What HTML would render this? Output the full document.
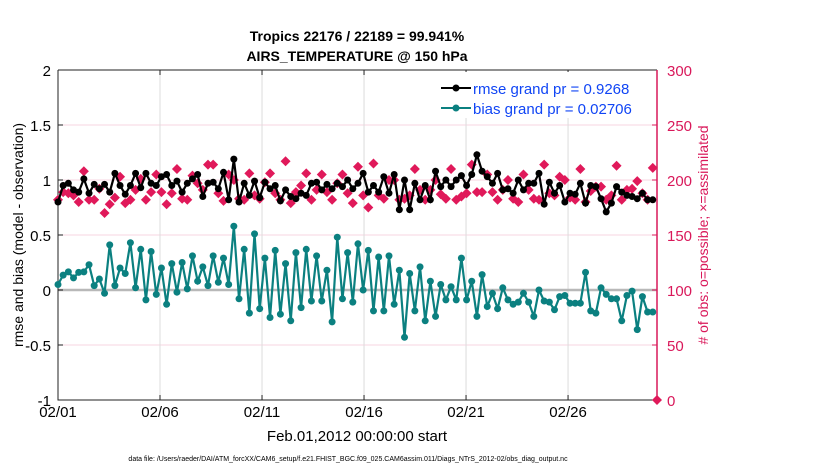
<!DOCTYPE html>
<html><head><meta charset="utf-8"><style>
body{margin:0;background:#fff;width:830px;height:470px;overflow:hidden;font-family:"Liberation Sans",Arial,sans-serif}
</style></head><body>
<svg id="chart" width="830" height="470" xmlns="http://www.w3.org/2000/svg" font-family="Liberation Sans, Arial, sans-serif">
<g id="grid"></g>
<g id="axes"></g>
<g id="series"></g>
<text x="357" y="41" text-anchor="middle" font-size="14" font-weight="bold">Tropics 22176 / 22189 = 99.941%</text>
<text x="357" y="61" text-anchor="middle" font-size="14" font-weight="bold">AIRS_TEMPERATURE @ 150 hPa</text>
<text x="357" y="441" text-anchor="middle" font-size="15">Feb.01,2012 00:00:00 start</text>
<text transform="translate(23,235) rotate(-90)" text-anchor="middle" font-size="14">rmse and bias (model - observation)</text>
<text transform="translate(708,235) rotate(-90)" text-anchor="middle" font-size="14" fill="#d9185a"># of obs: o=possible; ×=assimilated</text>
<text x="348" y="461" text-anchor="middle" font-size="7">data file: /Users/raeder/DAI/ATM_forcXX/CAM6_setup/f.e21.FHIST_BGC.f09_025.CAM6assim.011/Diags_NTrS_2012-02/obs_diag_output.nc</text>
<g>
<rect x="436" y="72" width="218" height="46" fill="#fff"/>
<line x1="441" y1="88" x2="471" y2="88" stroke="#000" stroke-width="2"/><circle cx="456" cy="88" r="3.5" fill="#000"/>
<text x="473" y="94" font-size="15" fill="#1045f5">rmse grand pr = 0.9268</text>
<line x1="441" y1="108" x2="471" y2="108" stroke="#0b8080" stroke-width="2"/><circle cx="456" cy="108" r="3.5" fill="#0b8080"/>
<text x="473" y="114" font-size="15" fill="#1045f5">bias grand pr = 0.02706</text>
</g>
</svg>
<script>
const rmse=[0.80,0.95,0.97,0.91,0.89,1.01,0.88,0.96,0.92,0.96,0.89,1.06,0.95,0.87,0.95,1.06,0.93,1.06,0.97,0.95,1.03,1.05,0.95,0.99,0.89,0.97,1.01,1.05,0.85,0.97,
0.98,0.92,1.07,0.82,1.19,0.80,0.97,0.86,0.99,0.84,0.98,0.92,0.95,0.81,0.91,0.85,0.83,0.88,0.86,0.97,0.98,0.91,0.96,0.92,0.97,0.94,1.0,0.92,0.97,
1.06,0.89,0.95,0.89,1.03,0.88,1.05,0.73,1.0,0.73,0.97,0.82,0.95,0.82,1.08,0.94,1.0,0.94,1.0,1.04,0.95,1.05,1.23,1.08,1.03,0.97,1.06,0.91,0.92,
0.88,1.0,0.91,0.97,0.97,1.06,0.78,0.98,0.88,0.95,0.80,0.88,0.87,0.97,0.79,0.95,0.94,0.83,0.71,0.79,0.94,0.89,0.86,0.85,0.83,0.88,0.82,0.82];
const bias=[0.05,0.135,0.165,0.11,0.16,0.165,0.23,0.04,0.1,-0.03,0.41,0.04,0.2,0.15,0.43,0.02,0.37,-0.09,0.35,-0.04,0.2,-0.13,0.24,-0.02,0.25,0.01,0.31,0.08,0.21,0.04,
0.31,0.07,0.29,0.05,0.58,-0.08,0.37,-0.21,0.51,-0.17,0.29,-0.25,0.36,-0.22,0.24,-0.28,0.34,-0.16,0.37,-0.1,0.31,-0.1,0.18,-0.29,0.48,-0.08,0.34,-0.11,0.42,
0.0,0.36,-0.19,0.3,-0.19,0.31,-0.13,0.18,-0.43,0.15,-0.19,0.21,-0.28,0.08,-0.24,0.05,-0.09,0.03,-0.09,0.29,-0.09,0.08,-0.24,0.14,-0.15,-0.03,-0.17,0.02,-0.09,
-0.13,-0.11,-0.03,-0.11,-0.24,0.0,-0.1,-0.11,-0.18,-0.06,-0.05,-0.12,-0.12,-0.12,0.16,-0.19,-0.21,0.02,-0.04,-0.08,-0.08,-0.28,-0.05,-0.01,-0.36,-0.06,-0.2,-0.2];
const nobs=[182,189,188,186,180,208,182,182,192,170,178,184,203,179,182,191,201,182,189,205,189,178,188,210,183,182,204,197,191,214,
214,188,181,205,200,183,182,206,186,183,198,206,188,182,217,179,189,195,206,182,191,205,189,182,197,205,188,179,212,
186,175,215,186,183,200,200,182,183,186,210,191,182,191,200,187,183,210,182,185,188,214,189,189,205,189,182,191,200,
183,180,205,191,183,182,214,188,186,203,200,184,182,210,180,190,194,194,182,186,213,182,191,192,199,188,182,211];
const xTickLabels=["02/01","02/06","02/11","02/16","02/21","02/26"];
const xTickDays=[0,5,10,15,20,25];
const yLeftTicks=[-1,-0.5,0,0.5,1,1.5,2];
const yRightTicks=[0,50,100,150,200,250,300];
const stepDays=0.2535, xMax=29.36;
const L=58,R=657,T=70,B=400;
const X=d=>L+d/xMax*(R-L);
const YL=v=>B-(v+1)/3*(B-T);
const YR=v=>B-v/300*(B-T);
const NS="http://www.w3.org/2000/svg";
function mk(tag,parent,attrs){const e=document.createElementNS(NS,tag);for(const k in attrs)e.setAttribute(k,attrs[k]);parent.appendChild(e);return e;}
const grid=document.getElementById('grid'),axes=document.getElementById('axes'),ser=document.getElementById('series');
yLeftTicks.forEach(v=>{const l=mk('line',grid,{x1:L,x2:R,y1:YL(v),y2:YL(v),stroke:'#f7d6e2','stroke-width':1});


const t=mk('text',axes,{x:L-7,y:YL(v)+6,'text-anchor':'end','font-size':15});t.textContent=String(v);


mk('line',axes,{x1:L,x2:L+5,y1:YL(v),y2:YL(v),stroke:'#222'});});
xTickDays.forEach((d,i)=>{const l=mk('line',grid,{x1:X(d),x2:X(d),y1:T,y2:B,stroke:'#dcdcdc','stroke-width':1});


mk('line',axes,{x1:X(d),x2:X(d),y1:B,y2:B-5,stroke:'#222'});
mk('line',axes,{x1:X(d),x2:X(d),y1:T,y2:T+5,stroke:'#222'});
const t=mk('text',axes,{x:X(d),y:B+17,'text-anchor':'middle','font-size':15});t.textContent=xTickLabels[i];

});
yRightTicks.forEach(v=>{mk('line',axes,{x1:R,x2:R-5,y1:YR(v),y2:YR(v),stroke:'#d9185a'});
const t=mk('text',axes,{x:R+10,y:YR(v)+6,'font-size':15,fill:'#d9185a'});t.textContent=String(v);

});
mk('line',grid,{x1:L,x2:R,y1:YL(0),y2:YL(0),stroke:'#b8b8b8','stroke-width':2.5});
mk('path',axes,{d:`M${L} ${T}V${B}H${R}`,fill:'none',stroke:'#222','stroke-width':1});
mk('line',axes,{x1:L,x2:R,y1:T,y2:T,stroke:'#222','stroke-width':1});
mk('line',axes,{x1:R,x2:R,y1:T,y2:B,stroke:'#d9185a','stroke-width':1.5});
nobs.forEach((v,i)=>{const cx=X(i*stepDays),cy=YR(v);
const p=mk('path',ser,{d:`M${cx} ${cy-5}L${cx+5} ${cy}L${cx} ${cy+5}L${cx-5} ${cy}Z`,fill:'#e0195a'});

});
const endObs=mk('path',ser,{d:`M${R} ${YR(0)-5}L${R+5} ${YR(0)}L${R} ${YR(0)+5}L${R-5} ${YR(0)}Z`,fill:'#e0195a'});


function line(arr,color,name){
const pl=mk('polyline',ser,{points:arr.map((v,i)=>X(i*stepDays)+','+YL(v)).join(' '),fill:'none',stroke:color,'stroke-width':2.2});


arr.forEach((v,i)=>{const c=mk('circle',ser,{cx:X(i*stepDays),cy:YL(v),r:3.5,fill:color});

});}
line(rmse,'#000','rmse');
line(bias,'#0b8080','bias');
</script>
</body></html>
